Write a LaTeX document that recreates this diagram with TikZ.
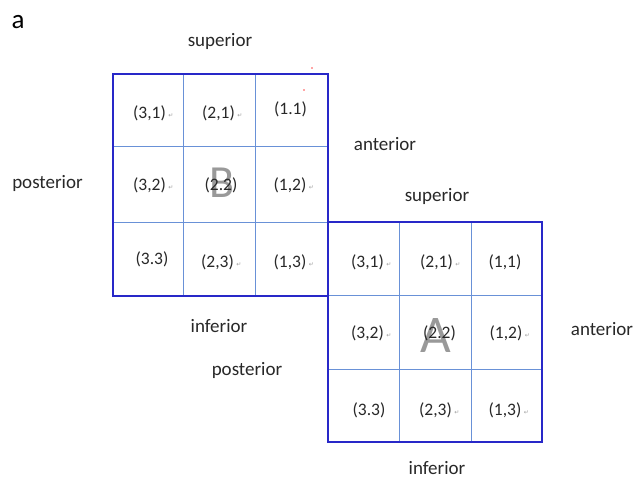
\documentclass[tikz,border=0pt]{standalone}
\usepackage{fontspec}
\setmainfont{Carlito}
\newfontfamily\djv{DejaVu Sans}
\definecolor{txtc}{RGB}{40,40,40}
\definecolor{outerc}{RGB}{40,40,200}
\definecolor{innerc}{RGB}{105,145,215}
\definecolor{bigc}{RGB}{120,120,120}
\begin{document}
\begin{tikzpicture}[x=1pt,y=-1pt,
  dirlab/.style={anchor=base,inner sep=0pt,text=txtc,font=\fontsize{19}{22}\selectfont},
  celllab/.style={anchor=center,inner sep=0pt,text=txtc,font=\fontsize{17.5}{20}\selectfont},
  retmark/.style={anchor=west,inner sep=0pt,text=gray!75,font=\djv\fontsize{6}{7}\selectfont},
  biglet/.style={anchor=center,inner sep=0pt,text=bigc,text opacity=0.75,font=\fontsize{46}{50}\selectfont},
  innerline/.style={draw=innerc,line width=0.9pt},
  outerline/.style={draw=outerc,line width=1.8pt},
  speck/.style={fill=red!70,draw=none}]
\useasboundingbox (0,0) rectangle (636,479);
\fill[white] (0,0) rectangle (636,479);
% grid B
\draw[innerline] (183,74) -- (183,296) (255,74) -- (255,296)
                 (113,146) -- (328,146) (113,222) -- (328,222);
% grid A
\draw[innerline] (399,222) -- (399,442) (471,222) -- (471,442)
                 (328,295) -- (542,295) (328,369) -- (542,369);
\draw[outerline] (113,74) rectangle (328,296);
\draw[outerline] (328,222) rectangle (542,442);
% big letters
\node[biglet] (bigB) at (222,183) {B};
\node[biglet,font=\fontsize{53}{56}\selectfont] (bigA) at (436,335) {A};
% cell labels
\foreach \n/\x/\y/\t/\m in {b31/149.5/113/{(3,1)}/1, b21/218.5/113/{(2,1)}/1, b11/290.5/109/{(1.1)}/0,
  b32/149.5/185/{(3,2)}/1, b22/221/185/{(2.2)}/0, b12/290/185/{(1,2)}/1,
  b33/152/259/{(3.3)}/0, b23/217.5/262/{(2,3)}/1, b13/290/262/{(1,3)}/1,
  a31/367.5/262/{(3,1)}/1, a21/436.5/262/{(2,1)}/1, a11/505/262/{(1,1)}/0,
  a32/367.5/333/{(3,2)}/1, a22/439.5/333/{(2.2)}/0, a12/506/333/{(1,2)}/1,
  a33/369/410/{(3.3)}/0, a23/435.5/410/{(2,3)}/1, a13/505/410/{(1,3)}/1}{
  \node[celllab] (\n) at (\x,\y) {\t};
  \ifnum\m=1
    \node[retmark] (\n m) at ([xshift=2pt,yshift=-3pt]\n.east) {↵};
  \fi
}
% direction labels
\node[anchor=base,inner sep=0pt,text=black,font=\fontsize{27}{30}\selectfont] (panel) at (18,28) {a};
\node[dirlab] (supB) at (220,46) {superior};
\node[dirlab] (postB) at (47.5,188) {posterior};
\node[dirlab] (antB) at (385,150) {anterior};
\node[dirlab] (infB) at (219,332) {inferior};
\node[dirlab] (supA) at (437,201) {superior};
\node[dirlab] (postA) at (247,375) {posterior};
\node[dirlab] (antA) at (602,335) {anterior};
\node[dirlab] (infA) at (437,474) {inferior};
% specks
\fill[speck] (312,68) circle (0.9);
\fill[speck] (304,90) circle (0.9);
\end{tikzpicture}
\end{document}
